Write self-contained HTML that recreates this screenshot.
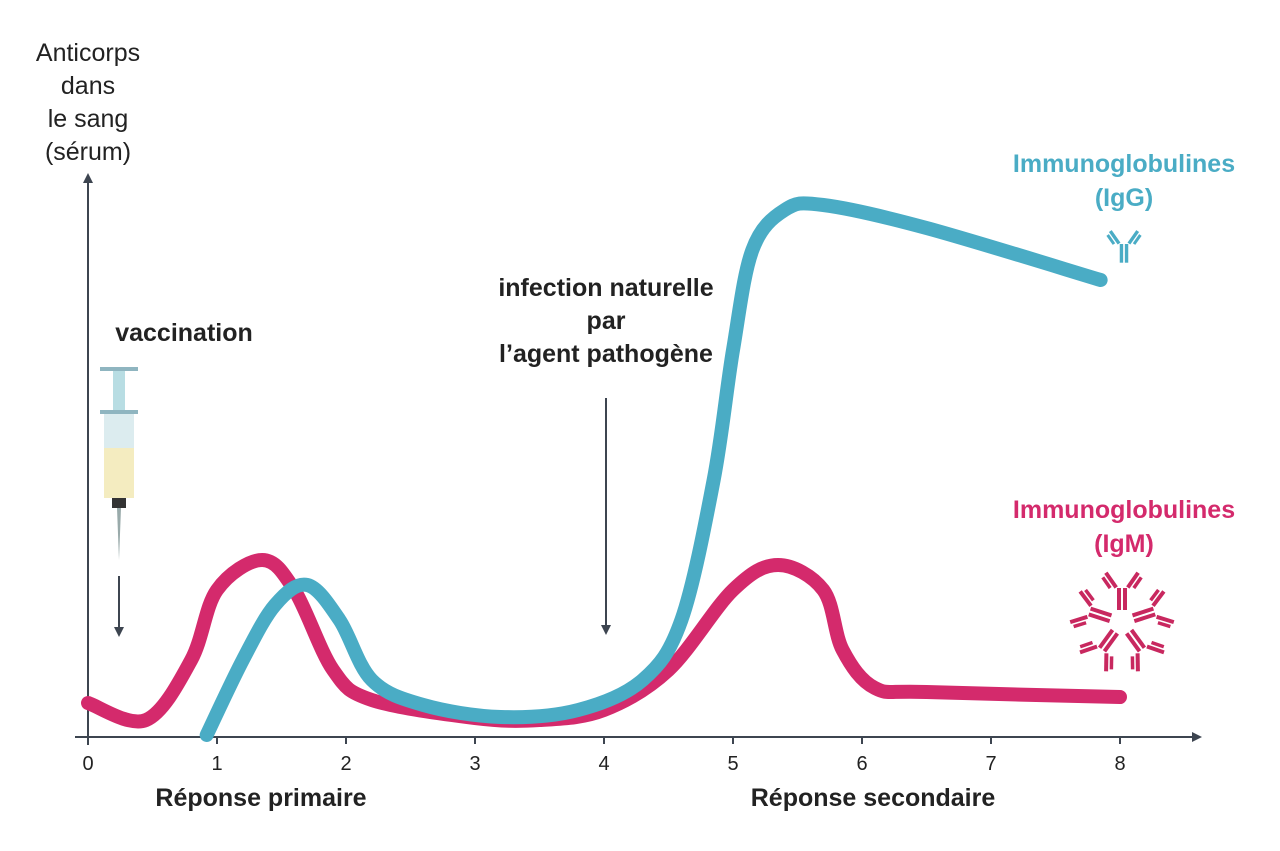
<!DOCTYPE html>
<html><head><meta charset="utf-8"><style>
body{margin:0;background:#fff}
svg{display:block}
text{font-family:"Liberation Sans",sans-serif}
</style></head><body>
<svg width="1280" height="851" viewBox="0 0 1280 851">
<defs>
<marker id="ah" markerWidth="10" markerHeight="10" refX="5" refY="5" orient="auto" markerUnits="userSpaceOnUse"><path d="M0,0 L10,5 L0,10 z" fill="#3d4550"/></marker>
<g id="ab"><rect x="-5" y="0" width="4" height="22" fill="currentColor"/><rect x="1" y="0" width="4" height="22" fill="currentColor"/>
<g transform="rotate(-35 -3 0)"><rect x="-7" y="-20" width="4" height="18" fill="currentColor"/><rect x="-12" y="-18" width="3.5" height="13" fill="currentColor"/></g>
<g transform="rotate(35 3 0)"><rect x="3" y="-20" width="4" height="18" fill="currentColor"/><rect x="8.5" y="-18" width="3.5" height="13" fill="currentColor"/></g></g>
</defs>
<g id="axes">
<line x1="75" y1="737" x2="1197" y2="737" stroke="#3d4550" stroke-width="2" marker-end="url(#ah)"/>
<line x1="88" y1="745" x2="88" y2="178" stroke="#3d4550" stroke-width="2" marker-end="url(#ah)"/>
<g id="ticks"></g>
</g>
<g font-size="25" fill="#222" text-anchor="middle">
<text x="88" y="61">Anticorps</text><text x="88" y="94">dans</text><text x="88" y="127">le sang</text><text x="88" y="160">(sérum)</text></g>
<text x="261" y="806" font-size="25" font-weight="bold" text-anchor="middle" fill="#222">Réponse primaire</text>
<text x="873" y="806" font-size="25" font-weight="bold" text-anchor="middle" fill="#222">Réponse secondaire</text>
<text x="184" y="341" font-size="25" font-weight="bold" text-anchor="middle" fill="#222">vaccination</text>
<g font-size="25" font-weight="bold" text-anchor="middle" fill="#222">
<text x="606" y="296">infection naturelle</text><text x="606" y="329">par</text><text x="606" y="362">l’agent pathogène</text></g>
<line x1="606" y1="398" x2="606" y2="630" stroke="#3d4550" stroke-width="2" marker-end="url(#ah)"/>
<line x1="119" y1="576" x2="119" y2="632" stroke="#3d4550" stroke-width="2" marker-end="url(#ah)"/>
<g>
<rect x="100" y="367" width="38" height="4" fill="#8fb5c0"/><rect x="113" y="371" width="12" height="40" fill="#b8dde3"/>
<rect x="100" y="410" width="38" height="4" fill="#8fb5c0"/><rect x="104" y="414" width="30" height="84" fill="#dcecef"/>
<rect x="104" y="448" width="30" height="50" fill="#f4ecc0"/><rect x="112" y="498" width="14" height="10" fill="#333"/>
<polygon points="117,508 121,508 119,560" fill="#9aa"/></g>
<path id="igm" fill="none" stroke="#d42a6c" stroke-width="14" stroke-linecap="round" stroke-linejoin="round"/>
<path id="igg" fill="none" stroke="#4aacc5" stroke-width="14" stroke-linecap="round" stroke-linejoin="round"/>
<g font-size="25" font-weight="bold" fill="#4aacc5" text-anchor="middle"><text x="1124" y="172">Immunoglobulines</text><text x="1124" y="206">(IgG)</text></g>
<g font-size="25" font-weight="bold" fill="#d42a6c" text-anchor="middle"><text x="1124" y="518">Immunoglobulines</text><text x="1124" y="552">(IgM)</text></g>
<g transform="translate(1124,244) scale(0.85)" style="color:#4aacc5"><use href="#ab"/></g>
<g transform="translate(1122,622)" style="color:#c8285f" id="pent"></g>
</svg>
<script>
const xTicks=[0,1,2,3,4,5,6,7,8];
const igmX=[0,0.45,0.8,1.0,1.35,1.6,1.9,2.2,3,3.5,4,4.5,5.0,5.35,5.7,5.85,6.1,6.5,8];
const igmY=[6.8,3.4,15.4,29.4,35.4,29.4,13.4,7.4,3.8,3.4,5.4,13.4,29.4,34.4,29.4,17.4,9.8,9,8];
const iggX=[0.92,1.2,1.45,1.7,1.95,2.2,2.6,3.2,3.8,4.3,4.6,4.85,5.0,5.15,5.4,5.7,6.5,7.85];
const iggY=[0.4,15.4,26.4,30.4,23.4,11.4,6.4,4,5.4,11.4,23.4,51.4,77.4,97.4,105.4,106.4,101.8,91.4];
const sx=v=>88+v*129, sy=v=>737-v*5;
const NS="http://www.w3.org/2000/svg";
const tg=document.getElementById('ticks');
xTicks.forEach(t=>{
 const l=document.createElementNS(NS,'line');
 l.setAttribute('x1',sx(t));l.setAttribute('x2',sx(t));l.setAttribute('y1',737);l.setAttribute('y2',744);
 l.setAttribute('stroke','#3d4550');l.setAttribute('stroke-width','2');
 
 
 tg.appendChild(l);
 const tx=document.createElementNS(NS,'text');
 tx.setAttribute('x',sx(t));tx.setAttribute('y',770);tx.setAttribute('text-anchor','middle');tx.setAttribute('font-size','20');tx.setAttribute('fill','#222');
 tx.textContent=t;
 
 
 tg.appendChild(tx);
});
function cr(xs,ys){
 const p=xs.map((x,i)=>[sx(x),sy(ys[i])]);
 let d='M'+p[0][0]+','+p[0][1];
 for(let i=0;i<p.length-1;i++){
  const p0=p[i-1]||p[i],p1=p[i],p2=p[i+1],p3=p[i+2]||p2;
  const c1=[p1[0]+(p2[0]-p0[0])/6,p1[1]+(p2[1]-p0[1])/6];
  const c2=[p2[0]-(p3[0]-p1[0])/6,p2[1]-(p3[1]-p1[1])/6];
  d+=` C${c1[0]},${c1[1]} ${c2[0]},${c2[1]} ${p2[0]},${p2[1]}`;
 }
 return d;
}
document.getElementById('igm').setAttribute('d',cr(igmX,igmY));
document.getElementById('igg').setAttribute('d',cr(iggX,iggY));
const pent=document.getElementById('pent');
for(let k=0;k<5;k++){
 const g=document.createElementNS(NS,'g');
 const u=document.createElementNS(NS,'use');u.setAttribute('href','#ab');
 g.appendChild(u);
 g.setAttribute('transform',`rotate(${k*72}) translate(0,-34)`);
 pent.appendChild(g);
}
</script>
</body></html>
